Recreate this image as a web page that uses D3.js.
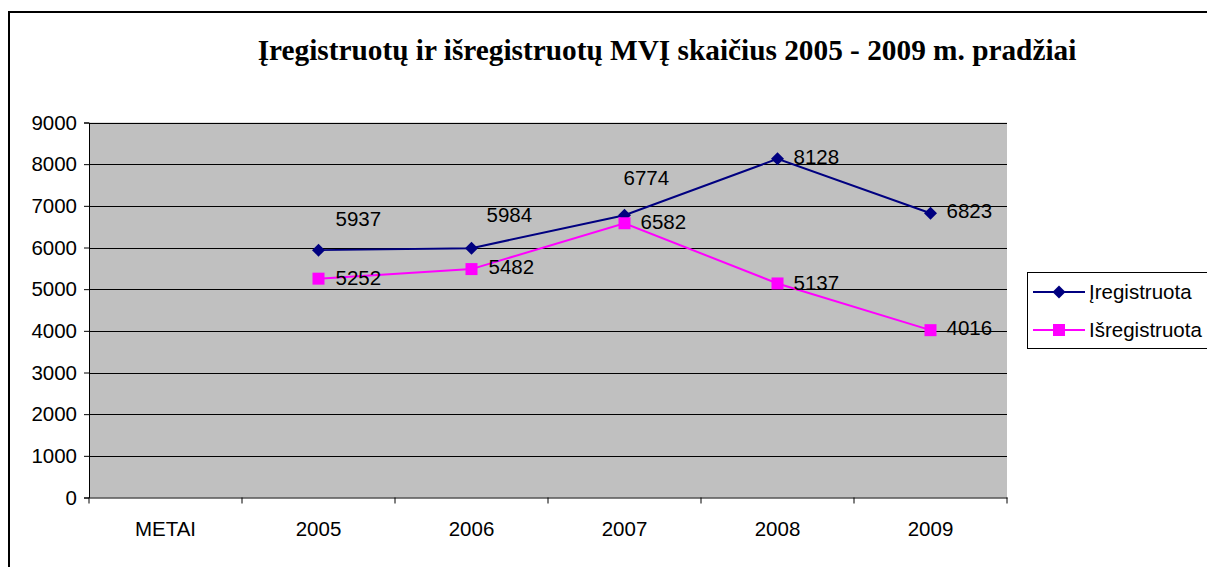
<!DOCTYPE html>
<html><head><meta charset="utf-8">
<script src="https://cdn.jsdelivr.net/npm/d3@7"></script>
<style>html,body{margin:0;padding:0;background:#fff;overflow:hidden}</style>
</head><body>
<svg id="c" width="1207" height="567"></svg>
<script>
const title = "Įregistruotų ir išregistruotų MVĮ skaičius 2005 - 2009 m. pradžiai";
const categories = ["METAI", "2005", "2006", "2007", "2008", "2009"];
const seriesNames = ["Įregistruota", "Išregistruota"];
const registered = [null, 5937, 5984, 6774, 8128, 6823];
const deregistered = [null, 5252, 5482, 6582, 5137, 4016];
const yTicks = [0, 1000, 2000, 3000, 4000, 5000, 6000, 7000, 8000, 9000];

// label nudges (layout only)
const regLabelNudge = [null, [17, -24], [15, -26], [-1, -30], [16, 5], [16, 5]];
const deregLabelNudge = [null, [17, 6], [17, 5], [16, 6], [16, 7], [16, 5]];

const FS = 20.5;
const svg = d3.select("#c");
const L = 89, R = 1007, T = 122.5, B = 497.5;
const x = d3.scaleBand().domain(categories).range([L, R]);
const y = d3.scaleLinear().domain([0, 9000]).range([B, T]);

// outer border
svg.append("rect").attr("x", 9).attr("y", 12).attr("width", 1400).attr("height", 700)
  .attr("fill", "#fff").attr("stroke", "#000").attr("stroke-width", 2);

svg.append("text").attr("x", 667).attr("y", 60).attr("text-anchor", "middle")
  .attr("font-family", "Liberation Serif, Times New Roman, serif").attr("font-weight", "bold")
  .attr("font-size", 29.3).attr("fill", "#000").text(title);

// plot area
svg.append("rect").attr("x", L).attr("y", T).attr("width", R - L).attr("height", B - T).attr("fill", "#c0c0c0");
svg.append("g").selectAll("line").data(yTicks.filter(d => d > 0)).join("line")
  .attr("x1", L).attr("x2", R).attr("y1", d => Math.round(y(d)) + 0.5).attr("y2", d => Math.round(y(d)) + 0.5)
  .attr("stroke", "#000").attr("stroke-width", 1);

const font = "Liberation Sans, Arial, sans-serif";
// y axis
const ya = svg.append("g").attr("transform", `translate(${L},0)`)
  .call(d3.axisLeft(y).tickValues(yTicks).tickSize(5).tickPadding(7).tickFormat(d3.format("d")));
ya.select(".domain").attr("stroke", "#000");
ya.selectAll("text").attr("font-family", font).attr("font-size", FS).attr("fill", "#000");
// x axis
const xa = svg.append("g").attr("transform", `translate(0,${B})`)
  .call(d3.axisBottom(x).tickSize(0).tickPadding(24));
xa.select(".domain").attr("stroke", "#000");
xa.selectAll("text").attr("font-family", font).attr("font-size", FS).attr("fill", "#000");
const bounds = categories.map(c => x(c)).concat([R]);
xa.selectAll(".bt").data(bounds).join("line").attr("class", "bt")
  .attr("x1", d => d).attr("x2", d => d).attr("y1", 0).attr("y2", 6).attr("stroke", "#000");

const line = d3.line().defined(d => d.v != null).x(d => x(d.c) + x.bandwidth() / 2).y(d => y(d.v));
const mk = arr => categories.map((c, i) => ({ c, v: arr[i], i }));
const s1 = mk(registered), s2 = mk(deregistered);

function drawSeries(data, color, shape, nudge) {
  svg.append("path").datum(data).attr("d", line).attr("fill", "none").attr("stroke", color).attr("stroke-width", 2);
  const pts = data.filter(d => d.v != null);
  svg.append("g").selectAll("path").data(pts).join("path")
    .attr("transform", d => `translate(${x(d.c) + x.bandwidth() / 2},${y(d.v)})`)
    .attr("d", shape).attr("fill", color);
  svg.append("g").selectAll("text").data(pts).join("text")
    .attr("x", d => x(d.c) + x.bandwidth() / 2 + nudge[d.i][0])
    .attr("y", d => y(d.v) + nudge[d.i][1])
    .attr("font-family", font).attr("font-size", FS).attr("fill", "#000").text(d => d.v);
}
const diamond = "M0,-6.5L6.5,0L0,6.5L-6.5,0Z";
const square = "M-6,-6H6V6H-6Z";
drawSeries(s1, "#000080", diamond, regLabelNudge);
drawSeries(s2, "#ff00ff", square, deregLabelNudge);

// legend
const lg = svg.append("g");
lg.append("rect").attr("x", 1027.5).attr("y", 272.5).attr("width", 200).attr("height", 76)
  .attr("fill", "#fff").attr("stroke", "#000").attr("stroke-width", 1);
const items = [[seriesNames[0], "#000080", diamond, 292], [seriesNames[1], "#ff00ff", square, 330]];
items.forEach(([n, c, s, yy]) => {
  lg.append("line").attr("x1", 1033).attr("x2", 1085).attr("y1", yy).attr("y2", yy).attr("stroke", c).attr("stroke-width", 2);
  lg.append("path").attr("d", s).attr("transform", `translate(1059,${yy})`).attr("fill", c);
  lg.append("text").attr("x", 1089).attr("y", yy + 7).attr("font-family", font).attr("font-size", FS).attr("fill", "#000").text(n);
});
</script>
</body></html>
